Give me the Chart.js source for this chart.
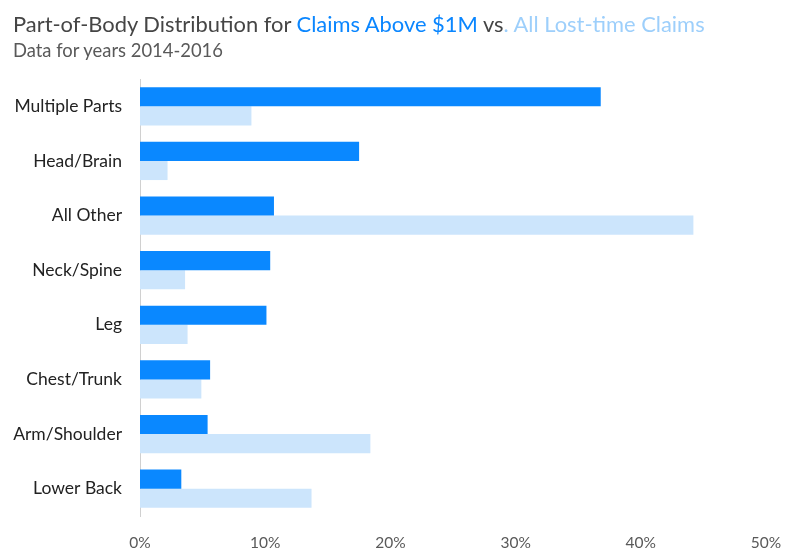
<!DOCTYPE html>
<html>
<head>
<meta charset="utf-8">
<script src="https://cdn.jsdelivr.net/npm/chart.js@4"></script>
<style>
  body { margin: 0; background: #fff; font-family: Lato, sans-serif; }
  #wrap { position: relative; width: 800px; height: 554px; }
  #title { position: absolute; left: 13px; top: 10px; font-size: 21.9px; color: #454545; white-space: nowrap; }
  #subtitle { position: absolute; left: 13px; top: 39px; font-size: 18.4px; color: #595959; white-space: nowrap; }
  canvas { position: absolute; left: 0; top: 0; }
</style>
</head>
<body>
<div id="wrap">
  <canvas id="chart" width="800" height="554"></canvas>
  <div id="title">Part-of-Body Distribution for <span style="color:#0a86ff">Claims Above $1M</span> vs<span style="color:#9dcffb">. All Lost-time Claims</span></div>
  <div id="subtitle">Data for years 2014-2016</div>
</div>
<script>
const categories = ["Multiple Parts", "Head/Brain", "All Other", "Neck/Spine", "Leg", "Chest/Trunk", "Arm/Shoulder", "Lower Back"];
const above1M = [36.8, 17.5, 10.7, 10.4, 10.1, 5.6, 5.4, 3.3];
const allLostTime = [8.9, 2.2, 44.2, 3.6, 3.8, 4.9, 18.4, 13.7];

const ctx = document.getElementById("chart").getContext("2d");
new Chart(ctx, {
  type: "bar",
  data: {
    labels: categories,
    datasets: [
      { label: "Claims Above $1M", data: above1M, backgroundColor: "#0a88ff" },
      { label: "All Lost-time Claims", data: allLostTime, backgroundColor: "#cce5fc" }
    ]
  },
  options: {
    indexAxis: "y",
    responsive: false,
    animation: false,
    layout: { padding: { top: 79, left: 10, right: 34, bottom: 0 } },
    datasets: { bar: { categoryPercentage: 0.7, barPercentage: 1 } },
    plugins: { legend: { display: false }, tooltip: { enabled: false } },
    scales: {
      x: {
        min: 0,
        max: 50,
        ticks: { stepSize: 10, callback: v => v + "%", color: "#595959", font: { family: "Lato", size: 15.5 }, padding: 18 },
        grid: { display: false, drawTicks: false },
        border: { display: false },
        afterFit: s => { s.height = 38; }
      },
      y: {
        ticks: { color: "#222", font: { family: "Lato", size: 17.5 }, padding: 18 },
        grid: { display: false, drawTicks: false },
        border: { display: true, color: "#d0d0d0" },
        afterFit: s => { s.width = 130; }
      }
    }
  }
});
</script>
</body>
</html>
